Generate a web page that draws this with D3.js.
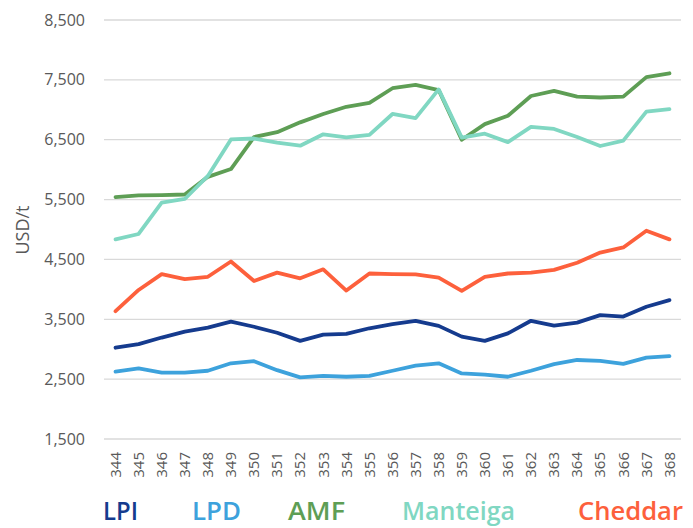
<!DOCTYPE html>
<html>
<head>
<meta charset="utf-8">
<script src="https://cdn.jsdelivr.net/npm/d3@7"></script>
<style>
  html, body { margin: 0; padding: 0; background: #fff; }
  svg { display: block; }
</style>
</head>
<body>
<svg id="chart" width="693" height="528"></svg>
<script>
const categories = ["344","345","346","347","348","349","350","351","352","353","354","355","356","357","358","359","360","361","362","363","364","365","366","367","368"];
const LPI      = [3025,3085,3195,3295,3360,3460,3375,3275,3140,3245,3255,3350,3420,3475,3390,3210,3140,3265,3475,3395,3445,3570,3545,3710,3820];
const LPD      = [2625,2680,2610,2610,2640,2765,2800,2650,2530,2555,2540,2555,2640,2725,2765,2595,2575,2540,2640,2750,2820,2805,2755,2860,2885];
const AMF      = [5540,5570,5575,5585,5880,6010,6545,6625,6790,6930,7050,7115,7360,7415,7330,6500,6760,6900,7230,7315,7220,7205,7220,7545,7610];
const Manteiga = [4835,4925,5450,5510,5895,6505,6520,6450,6400,6590,6540,6580,6930,6860,7340,6535,6600,6460,6715,6680,6545,6395,6485,6970,7010];
const Cheddar  = [3635,3990,4255,4170,4210,4465,4140,4280,4185,4335,3980,4265,4255,4250,4195,3975,4210,4265,4280,4325,4445,4615,4700,4980,4835];
const yTicks   = [1500,2500,3500,4500,5500,6500,7500,8500];

const series = [
  {name:"LPI", values:LPI, color:"#153b8e"},
  {name:"LPD", values:LPD, color:"#3da2dc"},
  {name:"AMF", values:AMF, color:"#5e9e55"},
  {name:"Manteiga", values:Manteiga, color:"#80d7c2"},
  {name:"Cheddar", values:Cheddar, color:"#fd603c"}
];
const legendX = [103,192,288,402,578];
const legendW = [35,49,57,113,105];

const svg = d3.select("#chart");
const x = d3.scaleBand().domain(categories).range([104,681]).padding(0);
const y = d3.scaleLinear().domain([1500,8500]).range([439,20]);
const fmt = d3.format(",");
const font = "'Open Sans', sans-serif";

// gridlines
svg.append("g").selectAll("line").data(yTicks).join("line")
  .attr("x1",104).attr("x2",681)
  .attr("y1",d=>y(d)).attr("y2",d=>y(d))
  .attr("stroke","#d9d9d9").attr("stroke-width",1.3);

// y labels
svg.append("g").selectAll("text").data(yTicks).join("text")
  .attr("x",85).attr("y",d=>y(d)).attr("dy","0.35em")
  .attr("text-anchor","end")
  .attr("font-family",font).attr("font-size",16)
  .attr("fill","#595959")
  .text(d=>fmt(d));

// y title
svg.append("text")
  .attr("transform","translate(23,230) rotate(-90)")
  .attr("dy","0.35em")
  .attr("text-anchor","middle")
  .attr("font-family",font).attr("font-size",18)
  .attr("fill","#595959")
  .text("USD/t");

// x labels
svg.append("g").selectAll("text").data(categories).join("text")
  .attr("transform",d=>`translate(${x(d)+x.bandwidth()/2},452) rotate(-90)`)
  .attr("dy","0.35em")
  .attr("text-anchor","end")
  .attr("font-family",font).attr("font-size",15)
  .attr("fill","#595959")
  .text(d=>d);

// lines
const line = d3.line()
  .x((d,i)=>x(categories[i])+x.bandwidth()/2)
  .y(d=>y(d));
const order = ["LPD","LPI","Cheddar","AMF","Manteiga"];
order.forEach(n=>{
  const s = series.find(t=>t.name===n);
  svg.append("path")
    .datum(s.values)
    .attr("d",line)
    .attr("fill","none")
    .attr("stroke",s.color)
    .attr("stroke-width",3.8)
    .attr("stroke-linejoin","round")
    .attr("stroke-linecap","round");
});

// legend
svg.append("g").selectAll("text").data(series).join("text")
  .attr("x",(d,i)=>legendX[i]).attr("y",520)
  .attr("font-family",font).attr("font-size",25).attr("font-weight",600)
  .attr("fill",d=>d.color)
  .attr("textLength",(d,i)=>legendW[i])
  .attr("lengthAdjust","spacingAndGlyphs")
  .text(d=>d.name);
</script>
</body>
</html>
